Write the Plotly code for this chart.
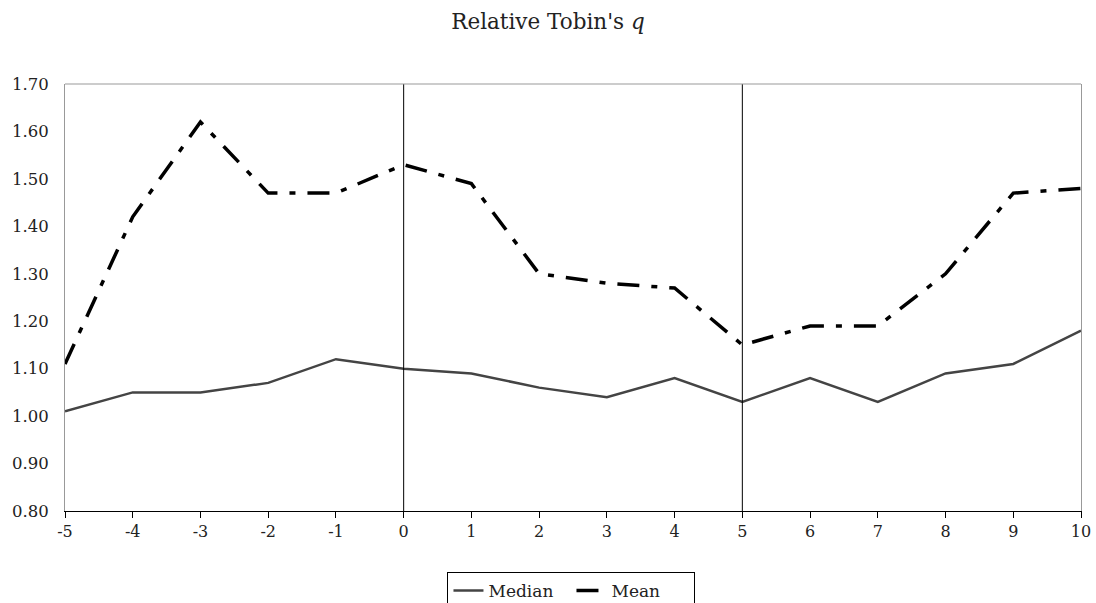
import plotly.graph_objects as go

years = [-5, -4, -3, -2, -1, 0, 1, 2, 3, 4, 5, 6, 7, 8, 9, 10]
median_q = [1.01, 1.05, 1.05, 1.07, 1.12, 1.10, 1.09, 1.06, 1.04, 1.08, 1.03, 1.08, 1.03, 1.09, 1.11, 1.18]
mean_q = [1.11, 1.42, 1.62, 1.47, 1.47, 1.53, 1.49, 1.30, 1.28, 1.27, 1.15, 1.19, 1.19, 1.30, 1.47, 1.48]
event_years = [0, 5]
y_ticks = [0.80, 0.90, 1.00, 1.10, 1.20, 1.30, 1.40, 1.50, 1.60, 1.70]

FONT = "DejaVu Serif"

fig = go.Figure()
fig.add_trace(go.Scatter(x=years, y=median_q, mode="lines", name="Median",
                         line=dict(color="#444444", width=2.5)))
fig.add_trace(go.Scatter(x=years, y=mean_q, mode="lines", name="Mean",
                         line=dict(color="black", width=3.5, dash="22px,12px,6px,12px")))

for ev in event_years:
    fig.add_vline(x=ev, line=dict(color="black", width=1))

fig.add_shape(type="line", xref="paper", yref="paper", x0=0, x1=1, y0=1, y1=1,
              line=dict(color="#999999", width=1))

fig.update_layout(
    width=1096, height=603,
    paper_bgcolor="white", plot_bgcolor="white",
    margin=dict(l=65, r=15, t=84, b=92, autoexpand=False),
    title=dict(text="Relative Tobin's <i>q</i>", x=0.5, xanchor="center", y=0.965, yanchor="middle",
               font=dict(family=FONT, size=21.5, color="#222")),
    font=dict(family=FONT, size=16, color="#222"),
    showlegend=True,
    legend=dict(orientation="h", x=0.4985, xanchor="center", y=-0.1425, yanchor="top",
                bordercolor="black", borderwidth=1, font=dict(family=FONT, size=17, color="#222"),
                entrywidth=78, tracegroupgap=0),
    xaxis=dict(range=[-5, 10], tickmode="array", tickvals=years, ticktext=[str(v) for v in years],
               showgrid=False, zeroline=False, showline=True, linecolor="black", linewidth=1,
               ticks="outside", ticklen=6, tickcolor="black", mirror=False, automargin=False,
               ticklabeloverflow="allow",
               tickfont=dict(family=FONT, size=16, color="#222")),
    yaxis=dict(range=[0.8, 1.7], tickmode="array", tickvals=y_ticks,
               ticktext=[f"{v:.2f}" for v in y_ticks],
               showgrid=False, zeroline=False, showline=True, linecolor="#999999", linewidth=1,
               mirror=True, ticks="", ticklabelstandoff=12, automargin=False,
               tickfont=dict(family=FONT, size=16.5, color="#222")),
)

fig.write_html("out.html", config={"displayModeBar": False},
               post_script="document.body.style.margin='0';document.body.style.overflow='hidden';")
